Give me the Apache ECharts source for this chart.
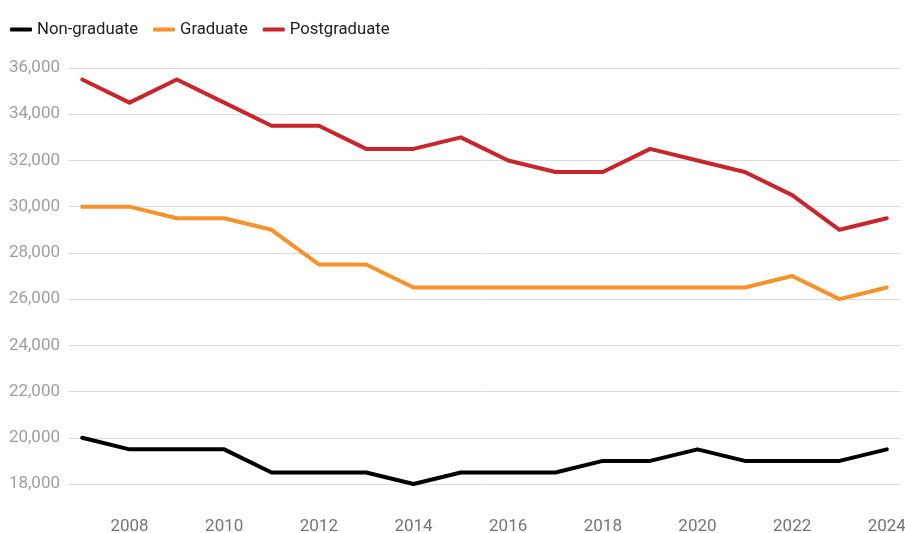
<!DOCTYPE html>
<html>
<head>
<meta charset="utf-8">
<script src="https://cdn.jsdelivr.net/npm/echarts@6/dist/echarts.min.js"></script>
<style>html,body{margin:0;padding:0;background:#fff}#c{width:905px;height:533px}</style>
</head>
<body>
<div id="c"></div>
<script>
const years = [2007,2008,2009,2010,2011,2012,2013,2014,2015,2016,2017,2018,2019,2020,2021,2022,2023,2024];
const xTickLabels = [2008,2010,2012,2014,2016,2018,2020,2022,2024];
const nonGraduate = [20000,19500,19500,19500,18500,18500,18500,18000,18500,18500,18500,19000,19000,19500,19000,19000,19000,19500];
const graduate = [30000,30000,29500,29500,29000,27500,27500,26500,26500,26500,26500,26500,26500,26500,26500,27000,26000,26500];
const postgraduate = [35500,34500,35500,34500,33500,33500,32500,32500,33000,32000,31500,31500,32500,32000,31500,30500,29000,29500];
const seriesNames = ['Non-graduate','Graduate','Postgraduate'];
const colors = ['#000000','#f7922a','#c9252c'];

const chart = echarts.init(document.getElementById('c'));
const mk = (name, vals, color) => ({
  name, type: 'line', data: years.map((y,i)=>[y, vals[i]]),
  showSymbol: false, symbol: 'none', color,
  lineStyle: {width: 4, color, cap: 'round', join: 'round'}
});
chart.setOption({
  animation: false,
  textStyle: {fontFamily: 'Roboto'},
  legend: {
    left: 5, top: 16, itemWidth: 22, itemHeight: 4, itemGap: 15,
    icon: 'roundRect',
    textStyle: {fontSize: 16.7, color: '#212121', fontFamily: 'Roboto'},
    data: seriesNames
  },
  grid: {left: 68, right: 4, top: 68, bottom: 49, containLabel: false, outerBoundsMode: 'none'},
  xAxis: {
    type: 'value', min: 2006.7, max: 2024.3,
    axisLine: {show: false}, axisTick: {show: false}, splitLine: {show: false},
    axisLabel: {
      customValues: xTickLabels, margin: 34, hideOverlap: false,
      fontSize: 17, color: '#757575', formatter: v => String(v)
    }
  },
  yAxis: {
    type: 'value', min: 18000, max: 36000, interval: 2000,
    axisLine: {show: false}, axisTick: {show: false},
    splitLine: {lineStyle: {color: '#dcdcdc', width: 1}},
    axisLabel: {fontSize: 17, color: '#9e9e9e', margin: 8,
      formatter: v => v.toLocaleString('en-US')}
  },
  series: [
    mk(seriesNames[0], nonGraduate, colors[0]),
    mk(seriesNames[1], graduate, colors[1]),
    mk(seriesNames[2], postgraduate, colors[2])
  ]
});
</script>
</body>
</html>
